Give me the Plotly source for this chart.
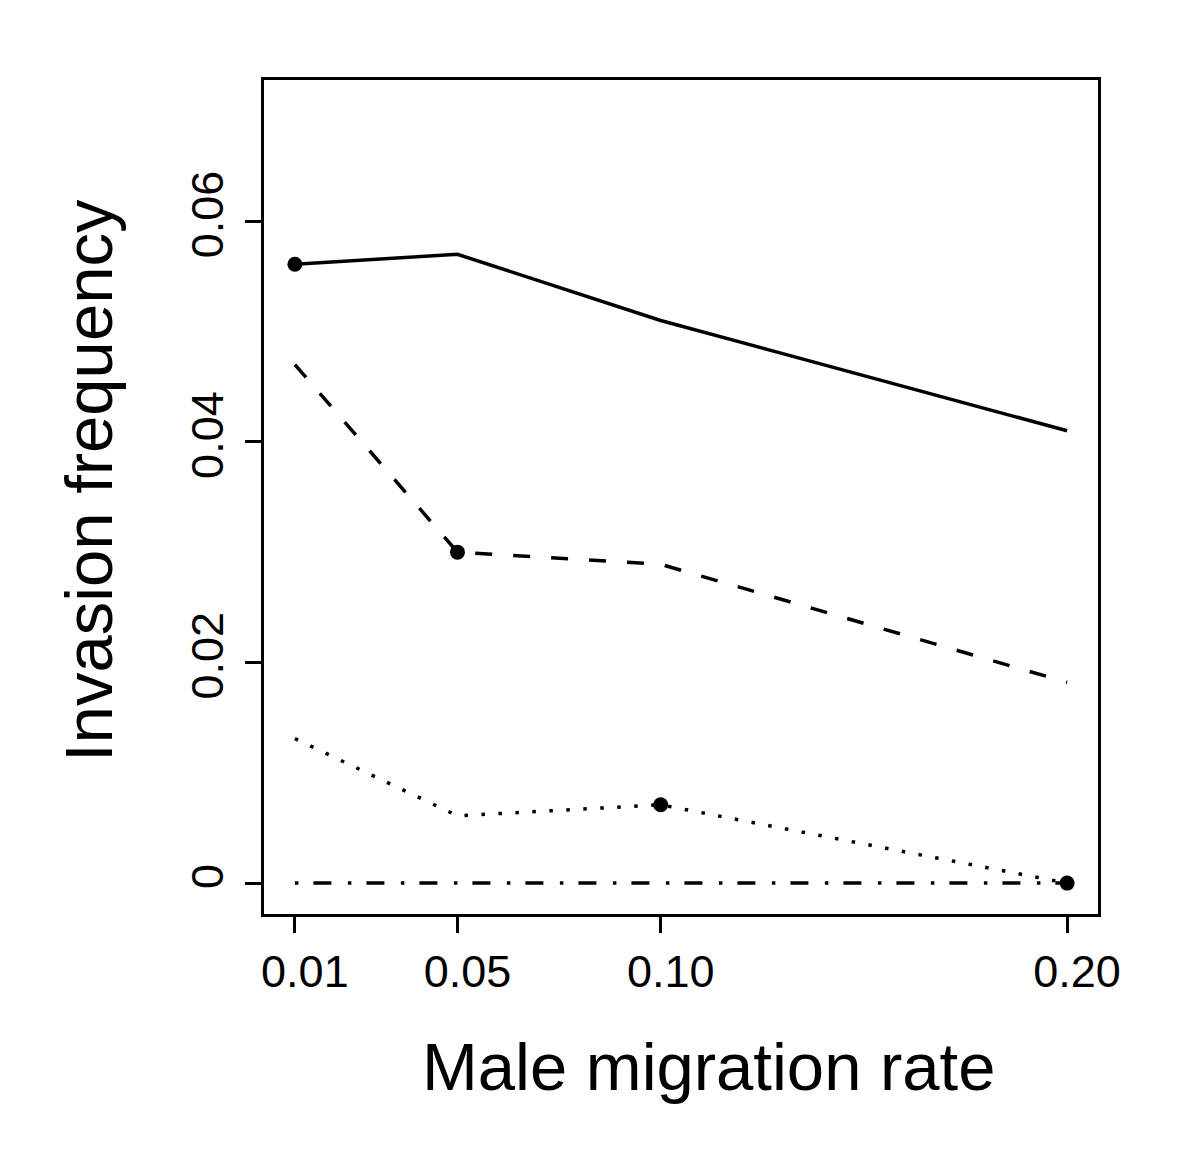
import plotly.graph_objects as go

migration = [0.01, 0.05, 0.10, 0.20]
tick_labels_x = ["0.01", "0.05", "0.10", "0.20"]
y_ticks = [0, 0.02, 0.04, 0.06]
tick_labels_y = ["0", "0.02", "0.04", "0.06"]

solid = [0.0561, 0.0570, 0.0510, 0.0410]
dashed = [0.0470, 0.0300, 0.0289, 0.0182]
dotted = [0.0131, 0.0061, 0.0071, 0.0000]
dotdash = [0.0, 0.0, 0.0, 0.0]

highlight_y = [solid[0], dashed[1], dotted[2], dotdash[3]]

FONT = "Liberation Sans, Arial, Helvetica, sans-serif"

# page body has an 8px margin; figure sized so plot box lands at 264..1098 x 80..914
W, H = 1192, 1148
L, T, PW, PH = 256, 72, 834, 834

fig = go.Figure()
styles = [
    (solid, "solid"),
    (dashed, "17px,21px"),
    (dotted, "3.5px,13.5px"),
    (dotdash, "3.5px,15px,18px,16.5px"),
]
for ys, dash in styles:
    fig.add_trace(go.Scatter(x=migration, y=ys, mode="lines",
                             line=dict(color="black", width=3.5, dash=dash),
                             showlegend=False, hoverinfo="skip"))

fig.add_trace(go.Scatter(x=migration, y=highlight_y, mode="markers",
                         marker=dict(color="black", size=15),
                         showlegend=False, hoverinfo="skip"))

fig.update_layout(
    width=W, height=H,
    margin=dict(l=L, r=W - L - PW, t=T, b=H - T - PH),
    plot_bgcolor="white", paper_bgcolor="white",
    font=dict(family=FONT, color="black"),
    xaxis=dict(range=[0.0024, 0.2076], tickvals=migration, ticktext=tick_labels_x,
               showgrid=False, zeroline=False, showline=True, mirror=True,
               linecolor="black", linewidth=3.4, ticks="outside", ticklen=16,
               tickwidth=3.2, tickcolor="black", tickfont=dict(size=45, family=FONT),
               ticklabelstandoff=0, ticklabelshift=10),
    yaxis=dict(range=[-0.0028, 0.0728], tickvals=y_ticks, ticktext=tick_labels_y,
               showgrid=False, zeroline=False, showline=True, mirror=True,
               linecolor="black", linewidth=3.4, ticks="outside", ticklen=16,
               tickwidth=3.2, tickcolor="black", tickfont=dict(size=45, family=FONT),
               tickangle=-90, ticklabelstandoff=4),
    annotations=[
        dict(text="Male migration rate", xref="paper", yref="paper",
             x=(708 - 264) / PW, y=-(1066 - 914) / PH, xanchor="center", yanchor="middle",
             showarrow=False, font=dict(size=67, family=FONT, color="black")),
        dict(text="Invasion frequency", xref="paper", yref="paper",
             x=-(264 - 88) / PW, y=(914 - 481) / PH, xanchor="center", yanchor="middle",
             textangle=-90, showarrow=False, font=dict(size=67, family=FONT, color="black")),
    ],
)

fig.write_html("out.html")
